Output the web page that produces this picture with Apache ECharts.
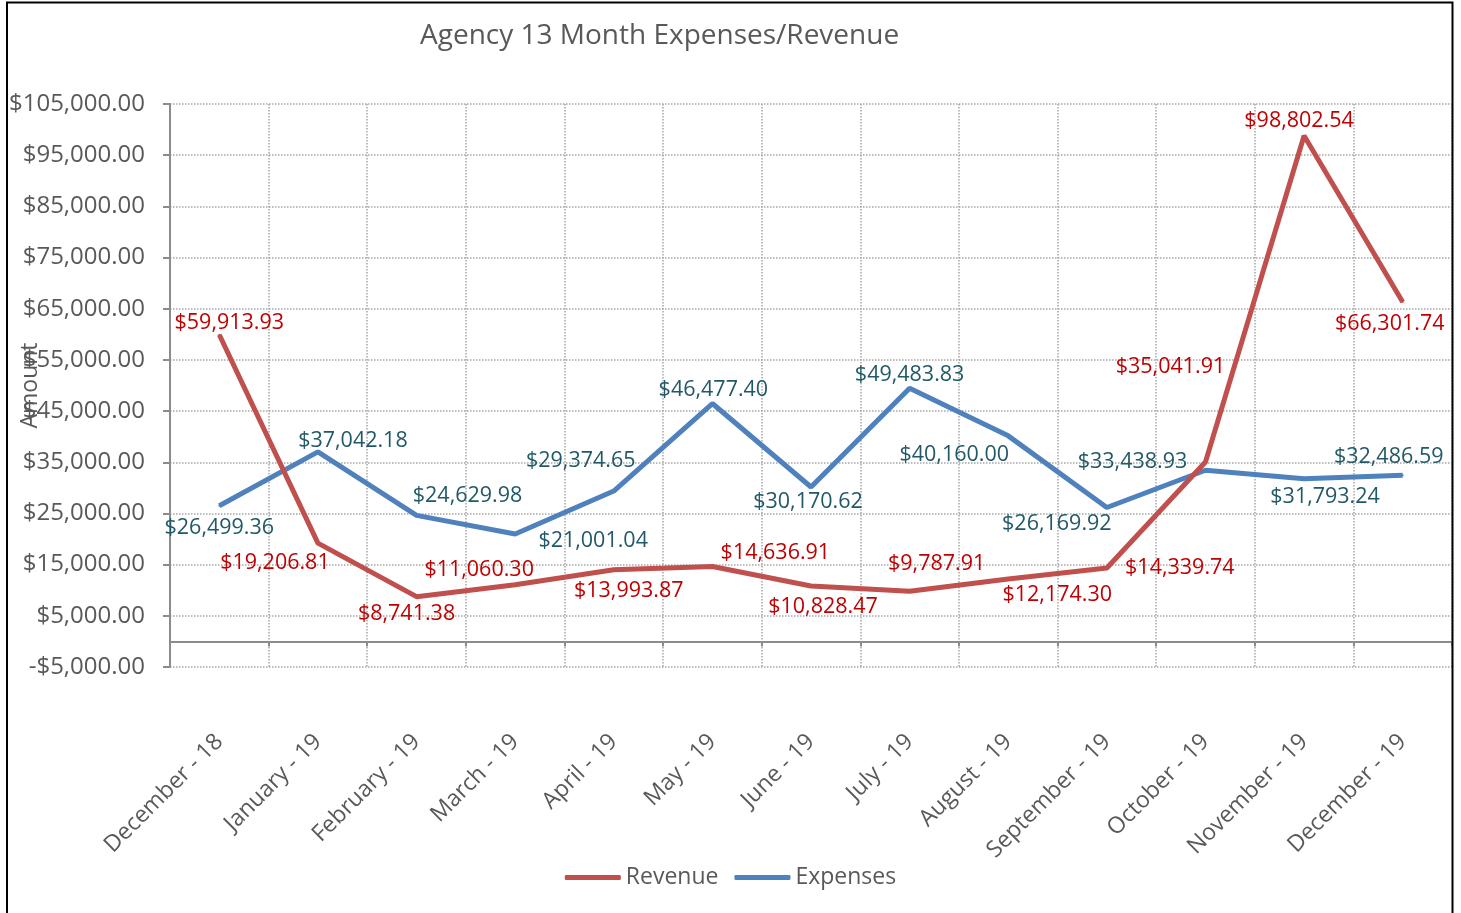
<!DOCTYPE html>
<html>
<head>
<meta charset="utf-8">
<title>Agency 13 Month Expenses/Revenue</title>
<script src="https://cdn.jsdelivr.net/npm/echarts@6/dist/echarts.min.js"></script>
<style>
  html, body { margin: 0; padding: 0; background: #fff; }
  #chart { width: 1461px; height: 913px; }
</style>
</head>
<body>
<div id="chart"></div>
<script>
  // data
  var months = ['December - 18', 'January - 19', 'February - 19', 'March - 19', 'April - 19', 'May - 19',
    'June - 19', 'July - 19', 'August - 19', 'September - 19', 'October - 19', 'November - 19', 'December - 19'];
  var revenue = [59913.93, 19206.81, 8741.38, 11060.30, 13993.87, 14636.91, 10828.47,
    9787.91, 12174.30, 14339.74, 35041.91, 98802.54, 66301.74];
  var expenses = [26499.36, 37042.18, 24629.98, 21001.04, 29374.65, 46477.40, 30170.62,
    49483.83, 40160.00, 26169.92, 33438.93, 31793.24, 32486.59];
  var yMin = -5000, yMax = 105000, yStep = 10000;

  // where each data label sits, relative to its point (px)
  var revLabelOffset = [[10, -12], [-43, 20], [-10, 17], [-36, -15], [15, 21], [63, -14], [12, 21],
    [27, -27], [49, 16], [73, 0], [-35, -95], [-5, -15], [-13, 22]];
  var expLabelOffset = [[0, 22], [35, -11], [51, -19], [78, 7], [-33, -30], [1, -14], [-3, 15],
    [0, -13], [-54, 19], [-50, 16], [-73, -8], [21, 18], [-14, -18]];

  var FONT = '"Open Sans", sans-serif';
  var GREY = '#595959';

  function money(v) {
    var s = Math.abs(v).toLocaleString('en-US', { minimumFractionDigits: 2, maximumFractionDigits: 2 });
    return (v < 0 ? '-$' : '$') + s;
  }

  function points(values, offsets) {
    return values.map(function (v, i) {
      return { value: v, label: { offset: offsets[i] } };
    });
  }

  var chart = echarts.init(document.getElementById('chart'));

  var option = {
    backgroundColor: '#fff',
    animation: false,
    title: {
      text: 'Agency 13 Month Expenses/Revenue',
      left: 420,
      top: 22,
      padding: 0,
      textStyle: { fontFamily: FONT, fontSize: 28, fontWeight: 'normal', color: GREY }
    },
    legend: {
      left: 'center',
      top: 861,
      itemWidth: 56,
      itemHeight: 5,
      itemGap: 16,
      icon: 'roundRect',
      textStyle: { fontFamily: FONT, fontSize: 23, color: GREY },
      data: ['Revenue', 'Expenses']
    },
    grid: { left: 170, right: 9, top: 104, bottom: 246, outerBoundsMode: 'none', containLabel: false },
    xAxis: {
      type: 'category',
      data: months,
      boundaryGap: true,
      axisLine: { onZero: true, lineStyle: { color: '#8c8c8c', width: 2 } },
      axisTick: { show: true, length: 5, lineStyle: { color: '#8c8c8c', width: 2 } },
      axisLabel: { rotate: 45, margin: 71, interval: 0, fontFamily: FONT, fontSize: 23, color: GREY },
      splitLine: { show: true, lineStyle: { color: '#a6a6a6', type: 'dotted', width: 1.5 } }
    },
    yAxis: {
      type: 'value',
      min: yMin,
      max: yMax,
      interval: yStep,
      name: 'Amount',
      nameLocation: 'middle',
      nameGap: 128,
      nameMoveOverlap: false,
      nameTextStyle: { fontFamily: FONT, fontSize: 23, color: GREY },
      axisLine: { show: true, lineStyle: { color: '#8c8c8c', width: 2 } },
      axisTick: { show: true, length: 7, lineStyle: { color: '#8c8c8c', width: 2 } },
      axisLabel: { margin: 25, fontFamily: FONT, fontSize: 24, color: GREY, formatter: money },
      splitLine: { show: true, lineStyle: { color: '#a6a6a6', type: 'dotted', width: 1.5 } }
    },
    series: [
      {
        name: 'Revenue',
        type: 'line',
        data: points(revenue, revLabelOffset),
        color: '#c0504d',
        symbol: 'circle',
        symbolSize: 2,
        lineStyle: { width: 5, color: '#c0504d' },
        label: {
          show: true,
          position: 'inside',
          fontFamily: FONT,
          fontSize: 21.5,
          color: '#c00000',
          formatter: function (p) { return money(p.value); }
        },
        z: 3
      },
      {
        name: 'Expenses',
        type: 'line',
        data: points(expenses, expLabelOffset),
        color: '#4f81bd',
        symbol: 'circle',
        symbolSize: 2,
        lineStyle: { width: 5, color: '#4f81bd' },
        label: {
          show: true,
          position: 'inside',
          fontFamily: FONT,
          fontSize: 21.5,
          color: '#215968',
          formatter: function (p) { return money(p.value); }
        },
        z: 2
      }
    ],
    graphic: [
      // outer frame (left, top, right edges)
      { type: 'polyline', shape: { points: [[7, 913], [7, 2.5], [1452.5, 2.5], [1452.5, 913]] },
        style: { stroke: '#000', lineWidth: 2, fill: null }, z: 10 }
    ]
  };

  chart.setOption(option);
</script>
</body>
</html>
